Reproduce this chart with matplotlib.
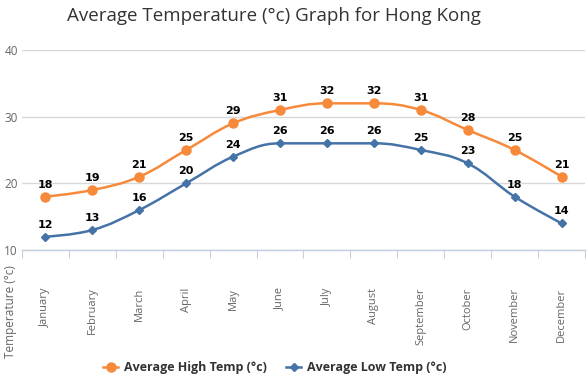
import numpy as np
import matplotlib
matplotlib.use("Agg")
from matplotlib import pyplot as plt
from matplotlib.path import Path
from matplotlib.patches import PathPatch
from matplotlib.lines import Line2D

months = ["January", "February", "March", "April", "May", "June", "July",
          "August", "September", "October", "November", "December"]
high_temp = [18, 19, 21, 25, 29, 31, 32, 32, 31, 28, 25, 21]
low_temp = [12, 13, 16, 20, 24, 26, 26, 26, 25, 23, 18, 14]

ORANGE = "#f7893b"
BLUE = "#4572a7"

plt.rcParams["font.family"] = ["Open Sans", "DejaVu Sans"]


def spline_path(xs, ys, smoothing=1.5):
    # highcharts-style spline control points
    n = len(xs)
    denom = smoothing + 1
    left = [None] * n
    right = [None] * n
    for i in range(1, n - 1):
        lx, ly = xs[i - 1], ys[i - 1]
        px, py = xs[i], ys[i]
        nx, ny = xs[i + 1], ys[i + 1]
        lcx = (smoothing * px + lx) / denom
        lcy = (smoothing * py + ly) / denom
        rcx = (smoothing * px + nx) / denom
        rcy = (smoothing * py + ny) / denom
        if rcx != lcx:
            corr = (rcy - lcy) * (rcx - px) / (rcx - lcx) + py - rcy
            lcy += corr
            rcy += corr
        if lcy > ly and lcy > py:
            lcy = max(ly, py)
            rcy = 2 * py - lcy
        elif lcy < ly and lcy < py:
            lcy = min(ly, py)
            rcy = 2 * py - lcy
        if rcy > ny and rcy > py:
            rcy = max(ny, py)
            lcy = 2 * py - rcy
        elif rcy < ny and rcy < py:
            rcy = min(ny, py)
            lcy = 2 * py - rcy
        left[i] = (lcx, lcy)
        right[i] = (rcx, rcy)
    verts = [(xs[0], ys[0])]
    codes = [Path.MOVETO]
    for i in range(1, n):
        c1 = right[i - 1] or (xs[i - 1], ys[i - 1])
        c2 = left[i] or (xs[i], ys[i])
        verts += [c1, c2, (xs[i], ys[i])]
        codes += [Path.CURVE4] * 3
    return Path(verts, codes)


fig = plt.figure(figsize=(5.88, 3.77), dpi=100)
ax = fig.add_axes([22 / 588, 127 / 377, 563 / 588, 200 / 377])

x = np.arange(len(months))
for vals, color, marker, ms in [(high_temp, ORANGE, "o", 6.5),
                                (low_temp, BLUE, "D", 4.5)]:
    ax.add_patch(PathPatch(spline_path(list(x), vals), fill=False,
                           edgecolor=color, lw=1.8, zorder=3))
    ax.plot(x, vals, ls="none", marker=marker, ms=ms, color=color, zorder=4)
    for xi, v in zip(x, vals):
        ax.annotate(str(v), (xi, v), xytext=(0, 5), textcoords="offset points",
                    ha="center", va="bottom", fontsize=8, fontweight="bold",
                    family="DejaVu Sans", color="black", zorder=5)

ax.set_xlim(-0.5, 11.5)
ax.set_ylim(10, 40)
ax.set_yticks([10, 20, 30, 40])
ax.grid(axis="y", color="#d8d8d8", lw=1)
ax.set_axisbelow(True)
for s in ["top", "right", "left"]:
    ax.spines[s].set_visible(False)
ax.spines["bottom"].set_color("#c0d0e0")
ax.spines["bottom"].set_linewidth(1)

ax.set_xticks(np.arange(-0.5, 12, 1), minor=False)
ax.set_xticklabels([])
ax.tick_params(axis="x", which="major", length=6, color="#c0d0e0", direction="out")
ax.set_xticks(x, minor=True)
ax.set_xticklabels(months, minor=True, rotation=90, ha="center", va="top",
                   fontsize=8, color="#666666")
ax.tick_params(axis="x", which="minor", length=0, pad=27)
ax.tick_params(axis="y", length=0, labelsize=8.5, labelcolor="#666666", pad=3)

fig.text(274 / 588, 1 - 16 / 377, "Average Temperature (°c) Graph for Hong Kong",
         ha="center", va="center", fontsize=13.5, color="#333333")
fig.text(11 / 588, 1 - 312 / 377, "Temperature (°c)", rotation=90,
         ha="center", va="center", fontsize=8.5, color="#666666")

handles = [Line2D([], [], color=ORANGE, marker="o", ms=6.5, lw=1.8),
           Line2D([], [], color=BLUE, marker="D", ms=4.5, lw=1.8)]
fig.legend(handles, ["Average High Temp (°c)", "Average Low Temp (°c)"],
           loc="center", bbox_to_anchor=(275 / 588, 1 - 368 / 377), ncol=2,
           frameon=False, handlelength=1.2, columnspacing=1.5, handletextpad=0.5,
           prop={"size": 9, "weight": "bold"}, labelcolor="#333333")

fig.savefig("out.png", dpi=100)
